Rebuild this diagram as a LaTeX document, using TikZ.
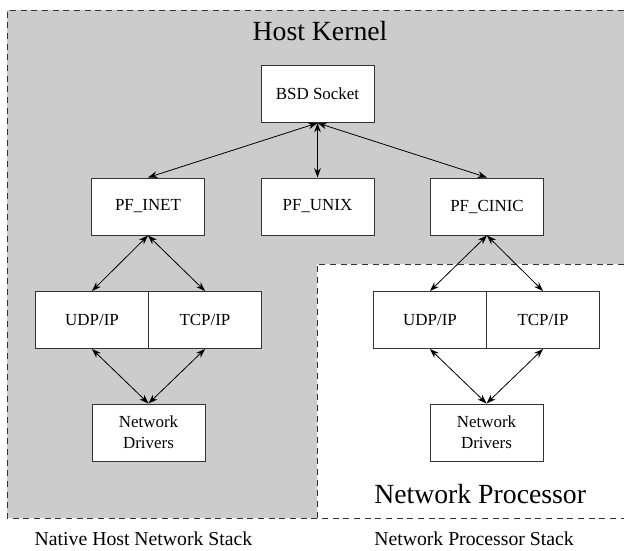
\documentclass[tikz,border=0pt]{standalone}
\usepackage{fontspec}
\setmainfont{Liberation Serif}
\usetikzlibrary{arrows.meta}

\tikzstyle{kernel grey}=[fill=black!20]
\tikzstyle{boundary}=[draw=black!80, line width=0.75pt, dash pattern=on 4.5pt off 3.5pt]
\tikzstyle{layer}=[rectangle, draw=black!80, fill=white, line width=0.75pt, minimum width=84.75pt, minimum height=42.75pt, inner sep=0pt, align=center, font=\fontsize{12.7}{15.5}\selectfont]
\tikzstyle{link}=[{Stealth[length=7pt,width=5pt]}-{Stealth[length=7pt,width=5pt]}, line width=0.6pt]
\tikzstyle{title}=[inner sep=0pt, font=\fontsize{20.8}{24}\selectfont]
\tikzstyle{caption}=[inner sep=0pt, font=\fontsize{14.8}{18}\selectfont]

\begin{document}
\begin{tikzpicture}[x=0.75pt, y=-0.75pt]
	\useasboundingbox (0,0) rectangle (624,550);

	\coordinate (NW) at (7,10);
	\coordinate (NE) at (624,10);
	\coordinate (SW) at (7,518);
	\coordinate (SE) at (624,518);
	\coordinate (PNE) at (624,264);
	\coordinate (PNW) at (317,264);
	\coordinate (PSW) at (317,518);

	% host kernel area, network processor cut out
	\fill[kernel grey] (NW) -- (NE) -- (PNE) -- (PNW) -- (PSW) -- (SW) -- cycle;
	\draw[boundary] (NE) -- (NW) -- (SW) -- (SE);
	\draw[boundary] (PNE) -- (PNW) -- (PSW);

	\node[title, anchor=base] (kernel) at (320,40) {Host Kernel};
	\node[title, anchor=base west] (nproc) at (374,503) {Network Processor};
	\node[caption, anchor=base] (nativecap) at (143.5,545) {Native Host Network Stack};
	\node[caption, anchor=base west] (npcap) at (374,545) {Network Processor Stack};

	\node[layer] (bsd) at (317.5,94) {BSD Socket};
	\node[layer] (inet) at (148,206.5) {PF\_INET};
	\node[layer] (unix) at (317.5,206.5) {PF\_UNIX};
	\node[layer] (cinic) at (487,206.5) {PF\_CINIC};

	\node[layer] (udpL) at (92,320) {UDP/IP};
	\node[layer] (tcpL) at (205,320) {TCP/IP};
	\node[layer] (drvL) at (148.5,432.5) {Network\\Drivers};

	\node[layer] (udpR) at (430,320) {UDP/IP};
	\node[layer] (tcpR) at (543,320) {TCP/IP};
	\node[layer] (drvR) at (486.5,432.5) {Network\\Drivers};

	\draw[link] (bsd.south) -- (inet.north);
	\draw[link] (bsd.south) -- (unix.north);
	\draw[link] (bsd.south) -- (cinic.north);

	\draw[link] (inet.south) -- (udpL.north);
	\draw[link] (inet.south) -- (tcpL.north);
	\draw[link] (udpL.south) -- (drvL.north);
	\draw[link] (tcpL.south) -- (drvL.north);

	\draw[link] (cinic.south) -- (udpR.north);
	\draw[link] (cinic.south) -- (tcpR.north);
	\draw[link] (udpR.south) -- (drvR.north);
	\draw[link] (tcpR.south) -- (drvR.north);
\end{tikzpicture}
\end{document}
